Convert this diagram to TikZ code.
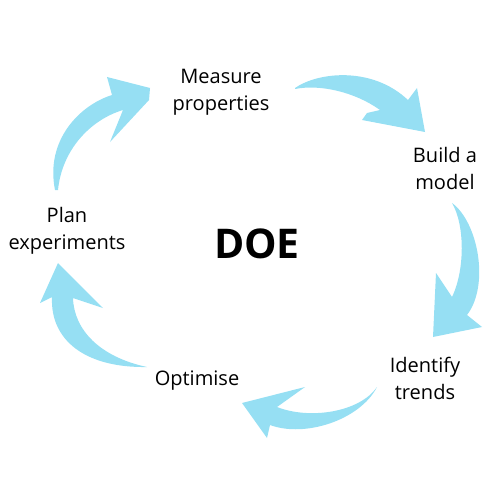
\documentclass[tikz,border=0pt]{standalone}
\usepackage{fontspec}
\setmainfont{Open Sans}
\definecolor{arrowblue}{RGB}{150,223,243}
\begin{document}
\begin{tikzpicture}[
        x=0.02cm,
        y=-0.02cm,
        stage/.style={align=center, font=\fontsize{11.4}{15.6}\selectfont},
        brush/.style={fill=arrowblue}
    ]
    \useasboundingbox (0,0) rectangle (500,500);

    % stages of the cycle
    \node[stage] (measure) at (221,92) {Measure\\properties};
    \node[stage] (model) at (445,168.5) {Build a\\model};
    \node[stage] (trends) at (425,378.5) {Identify\\trends};
    \node[stage] (optimise) at (197,381) {Optimise};
    \node[stage] (plan) at (67,231) {Plan\\experiments};
    \node[font=\bfseries\fontsize{23.3}{28}\selectfont] (doe) at (257,244) {DOE};

    % measure -> model
    \fill[brush] (295,88) .. controls (318,72) and (372,66) .. (408,100)
        -- (417,88) -- (425,132) -- (362,120) -- (367,113) -- (380,110)
        .. controls (355,92) and (320,84) .. (295,89) -- cycle;
    % model -> trends
    \fill[brush] (452,203) .. controls (478,222) and (490,285) .. (467,315)
        -- (482,327) -- (433,337) -- (436,273) -- (452,297)
        .. controls (465,270) and (465,225) .. (452,203) -- cycle;
    % trends -> optimise
    \fill[brush] (377,387) .. controls (360,420) and (305,438) .. (270,425)
        -- (267,438) -- (242,403) -- (305,387) -- (277,407)
        .. controls (310,420) and (360,412) .. (377,387) -- cycle;
    % optimise -> plan
    \fill[brush] (147,367) .. controls (100,357) and (74,330) .. (73,298)
        -- (103,308) -- (58,263) -- (40,303) -- (52,297)
        .. controls (50,340) and (85,368) .. (147,367) -- cycle;
    % plan -> measure
    \fill[brush] (55,190) .. controls (45,140) and (80,105) .. (112,95)
        -- (107,77) -- (150,88) -- (149,100) -- (110,142) -- (123,110)
        .. controls (90,120) and (62,150) .. (58,190) -- cycle;
\end{tikzpicture}
\end{document}
